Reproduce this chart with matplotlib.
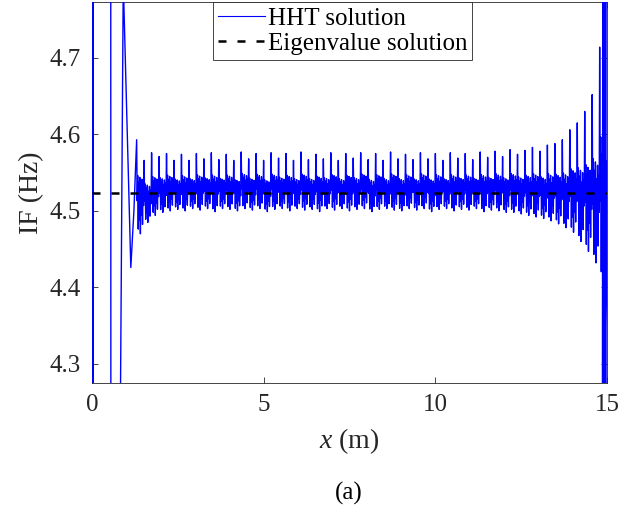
import numpy as np
import matplotlib
matplotlib.use('Agg')
import matplotlib.pyplot as plt

plt.rcParams['font.family'] = ['Liberation Serif', 'DejaVu Serif']
plt.rcParams['mathtext.fontset'] = 'custom'
plt.rcParams['mathtext.rm'] = 'Liberation Serif'
plt.rcParams['mathtext.it'] = 'Liberation Serif:italic'

# eigenvalue solution (Hz)
eig_freq = 4.5234

# start transient of the HHT curve (x in m, IF in Hz), off-scale values go past the axes
start_x = [0.01, 0.02, 0.03, 0.04, 0.05, 0.545, 0.55, 0.79, 0.91, 1.13, 1.22]
start_y = [4.0, 5.0, 4.0, 5.0, 5.0, 5.0, 4.0, 4.0, 4.80, 4.426, 4.50]

# one spike per cycle: peak and trough of each cycle
cycle_x0 = 1.30
cycle_len = 0.2175
peaks = [4.593, 4.566, 4.576, 4.571, 4.575, 4.566, 4.574, 4.566, 4.575, 4.568,
         4.576, 4.567, 4.574, 4.566, 4.577, 4.568, 4.575, 4.566, 4.576, 4.569,
         4.575, 4.566, 4.577, 4.567, 4.574, 4.568, 4.576, 4.566, 4.575, 4.569,
         4.576, 4.567, 4.575, 4.566, 4.577, 4.568, 4.574, 4.567, 4.576, 4.568,
         4.575, 4.566, 4.576, 4.569, 4.575, 4.567, 4.577, 4.570, 4.578, 4.571,
         4.580, 4.574, 4.579, 4.583, 4.578, 4.586, 4.588, 4.593, 4.606, 4.615,
         4.630, 4.652, 4.714]
troughs = [4.470, 4.485, 4.494, 4.498, 4.500, 4.502, 4.500, 4.503, 4.501, 4.503,
           4.499, 4.503, 4.502, 4.500, 4.503, 4.501, 4.503, 4.499, 4.502, 4.503,
           4.500, 4.503, 4.501, 4.502, 4.499, 4.503, 4.501, 4.503, 4.500, 4.502,
           4.503, 4.499, 4.502, 4.503, 4.501, 4.500, 4.503, 4.501, 4.503, 4.499,
           4.502, 4.503, 4.500, 4.502, 4.501, 4.503, 4.499, 4.501, 4.500, 4.498,
           4.498, 4.496, 4.494, 4.492, 4.490, 4.487, 4.483, 4.478, 4.472, 4.460,
           4.447, 4.432, 4.405]
# where each sample of a cycle sits between trough (0) and peak (1)
cycle_shape = [1.0, 0.35, 0.62, 0.05, 0.55, 0.15, 0.6, 0.0, 0.5,
               0.2, 0.58, 0.1, 0.52, 0.3]

# end of the curve, off-scale again near x = 15 m
end_x = [14.86, 14.88, 14.90, 14.915, 14.93, 14.945, 14.96, 14.975]
end_y = [4.0, 5.0, 4.0, 5.0, 4.0, 5.0, 4.0, 5.0]

# build the HHT curve
n_cyc = len(peaks)
n_pts = len(cycle_shape)
cyc_x = cycle_x0 + cycle_len * np.arange(n_cyc * n_pts) / n_pts
cyc_y = []
for pk, tr in zip(peaks, troughs):
    for f in cycle_shape:
        cyc_y.append(tr + f * (pk - tr))
hht_x = np.concatenate([start_x, cyc_x, end_x])
hht_y = np.concatenate([start_y, cyc_y, end_y])

fig = plt.figure(figsize=(6.39, 5.28), dpi=100)
ax = fig.add_axes([0.144, 0.2746, 0.806, 0.7216])

ax.plot(hht_x, hht_y, color='#0000ff', lw=1.0, label='HHT solution', zorder=3)
ax.plot([0, 15], [eig_freq, eig_freq], color='k', lw=1.8, dashes=(3.2, 4.4),
        label='Eigenvalue solution', zorder=4)

ax.set_xlim(0, 15)
ax.set_ylim(4.275, 4.773)
ax.set_xticks([0, 5, 10, 15])
ax.set_yticks([4.3, 4.4, 4.5, 4.6, 4.7])
ax.tick_params(direction='in', length=4, width=0.6, colors='#262626',
               labelsize=18, top=True, right=True, pad=8)
for s in ax.spines.values():
    s.set_color('#262626')
    s.set_linewidth(0.6)

ax.set_xlabel('$x$ (m)', fontsize=20, color='#262626', labelpad=7)
ax.set_ylabel('IF (Hz)', fontsize=20, color='#262626', labelpad=4)

leg = ax.legend(loc='upper center', bbox_to_anchor=(0.486, 1.0), borderaxespad=0,
                fontsize=18, fancybox=False, framealpha=1, edgecolor='#262626',
                borderpad=0.2, handlelength=1.9, handletextpad=0.1, labelspacing=0.1)
leg.get_frame().set_linewidth(0.6)
leg.get_lines()[0].set_linewidth(0.8)
leg.set_zorder(5)

fig.text(0.546, 0.066, '(a)', fontsize=18, ha='center', va='center')

fig.savefig('out.png', dpi=100)
